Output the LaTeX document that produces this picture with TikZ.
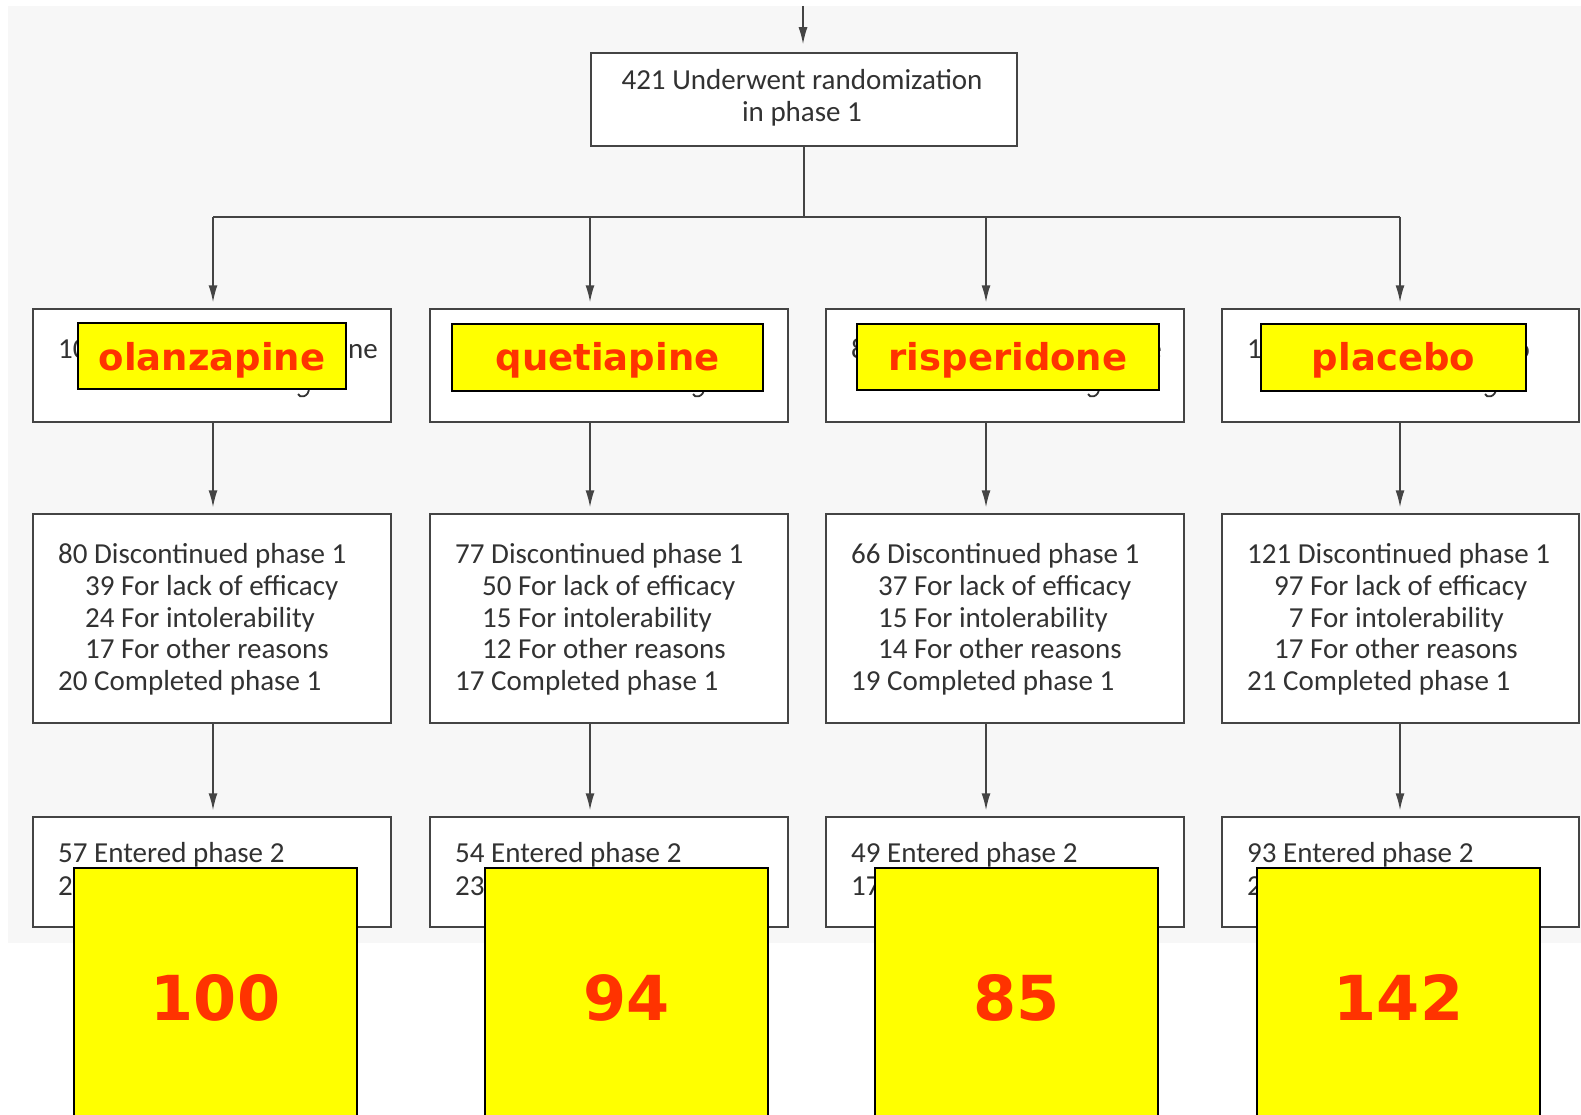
\documentclass[tikz,border=0pt]{standalone}
\usepackage{fontspec}
\setmainfont{Carlito}
\newfontfamily\tagfont{DejaVu Sans}
\usetikzlibrary{arrows.meta}
\definecolor{panel}{RGB}{247,247,247}
\definecolor{frame}{RGB}{68,68,68}
\definecolor{ink}{RGB}{50,50,50}
\definecolor{tagred}{RGB}{255,51,0}
\definecolor{tagyellow}{RGB}{255,255,0}

\begin{document}
\begin{tikzpicture}[x=1pt,y=-1pt,
  flowbox/.style={draw=frame, line width=1.5pt, fill=white, inner sep=0pt},
  line/.style={draw=frame, line width=1.5pt},
  flow/.style={line, -{Latex[length=17pt,width=9pt]}, shorten >=6pt},
  txt/.style={inner sep=0pt, text=ink, font=\fontsize{29}{31.7}\selectfont},
  tagbox/.style={draw=black, line width=2.5pt, fill=tagyellow, inner sep=0pt},
  tagtext/.style={inner sep=0pt, anchor=base, text=tagred, font=\tagfont\bfseries\fontsize{37}{40}\selectfont},
  bigtext/.style={inner sep=0pt, anchor=base, text=tagred, font=\tagfont\bfseries\fontsize{62}{66}\selectfont}]

% page and panel
\useasboundingbox (0,0) rectangle (1581,1115);
\fill[white] (0,0) rectangle (1581,1115);
\fill[panel] (8,6) rectangle (1581,943);

% randomization box
\node[flowbox, minimum width=426pt, minimum height=93pt] (top) at (804,99.5) {};
\node[txt, anchor=base] (topl1) at (802,90) {421 Underwent randomization};
\node[txt, anchor=base] (topl2) at (802,122) {in phase 1};

% three rows of boxes, four arms
\foreach \c/\cx/\w in {1/212/358, 2/609/358, 3/1005/358, 4/1400.5/357} {
  \node[flowbox, minimum width=\w pt, minimum height=113pt] (a\c) at (\cx,365.5) {};
  \node[flowbox, minimum width=\w pt, minimum height=209pt] (b\c) at (\cx,618.5) {};
  \node[flowbox, minimum width=\w pt, minimum height=110pt] (d\c) at (\cx,872) {};
}

% connectors
\coordinate (src) at (803,6);
\coordinate (hub) at (804,217);
\coordinate (j1) at (213,217);
\coordinate (j2) at (590,217);
\coordinate (j3) at (986,217);
\coordinate (j4) at (1400,217);
\draw[flow, shorten >=8pt] (src) -- (top.north -| src);
\draw[line] (top.south -| hub) -- (hub);
\draw[line] (j1) -- (j4);
\foreach \c in {1,2,3,4} {
  \draw[flow] (j\c) -- (a\c.north -| j\c);
  \draw[flow] (a\c.south -| j\c) -- (b\c.north -| j\c);
  \draw[flow] (b\c.south -| j\c) -- (d\c.north -| j\c);
}

% phase 1 outcomes
\foreach \c/\x/\p/\q/\r/\s/\t in {1/58/80/39/24/17/20, 2/455/77/50/15/12/17,
                                  3/851/66/37/15/14/19, 4/1247/121/97/{\phantom{0}7}/17/21} {
  \node[txt, anchor=base west] (b\c l1) at (\x,563) {\p\ Discontinued phase 1};
  \node[txt, anchor=base west] (b\c l2) at (\x+27,595) {\q\ For lack of efficacy};
  \node[txt, anchor=base west] (b\c l3) at (\x+27,627) {\r\ For intolerability};
  \node[txt, anchor=base west] (b\c l4) at (\x+27,658) {\s\ For other reasons};
  \node[txt, anchor=base west] (b\c l5) at (\x,690) {\t\ Completed phase 1};
}

% phase 2 entries
\foreach \c/\x/\n/\m in {1/58/57/2, 2/455/54/23, 3/851/49/17, 4/1247/93/2} {
  \node[txt, anchor=base west] (d\c l1) at (\x,862) {\n\ Entered phase 2};
  \node[txt, anchor=base west] (d\c l2) at (\x,895) {\m};
}

% arm box text around the tags
\node[txt, anchor=base west] (a1l) at (58,358) {10};
\node[txt, anchor=base east] (a1r) at (378,358) {ine};
\node[txt, anchor=base west] (a3l) at (851,358) {8};
\node[txt, anchor=base east] (a3r) at (1162,358) {e};
\node[txt, anchor=base west] (a4l) at (1247,358) {1};
\node[txt, anchor=base east] (a4r) at (1530,358) {o};
% descender hooks of the second line, just below the tags
\foreach \x in {297, 692, 1087, 1484}
  \draw[ink, line width=1.8pt] (\x+12,388) .. controls (\x+12,398) and (\x+2,398) .. (\x+1,394);

% arm name tags
\foreach \c/\cx/\cy/\w/\h/\name in {1/212/356/268/66/olanzapine, 2/607.5/357.5/311/67/quetiapine,
                                    3/1008/357/302/66/risperidone, 4/1393.5/357.5/265/67/placebo} {
  \node[tagbox, minimum width=\w pt, minimum height=\h pt] (tag\c) at (\cx,\cy) {};
  \node[tagtext] (tag\c t) at (\cx,370) {\name};
}

% arm totals
\foreach \c/\cx/\n in {1/215.5/100, 2/626.5/94, 3/1016.5/85, 4/1398.5/142} {
  \node[tagbox, minimum width=283pt, minimum height=262pt] (tot\c) at (\cx,999) {};
  \node[bigtext] (tot\c t) at (\cx,1020) {\n};
}
\end{tikzpicture}
\end{document}
